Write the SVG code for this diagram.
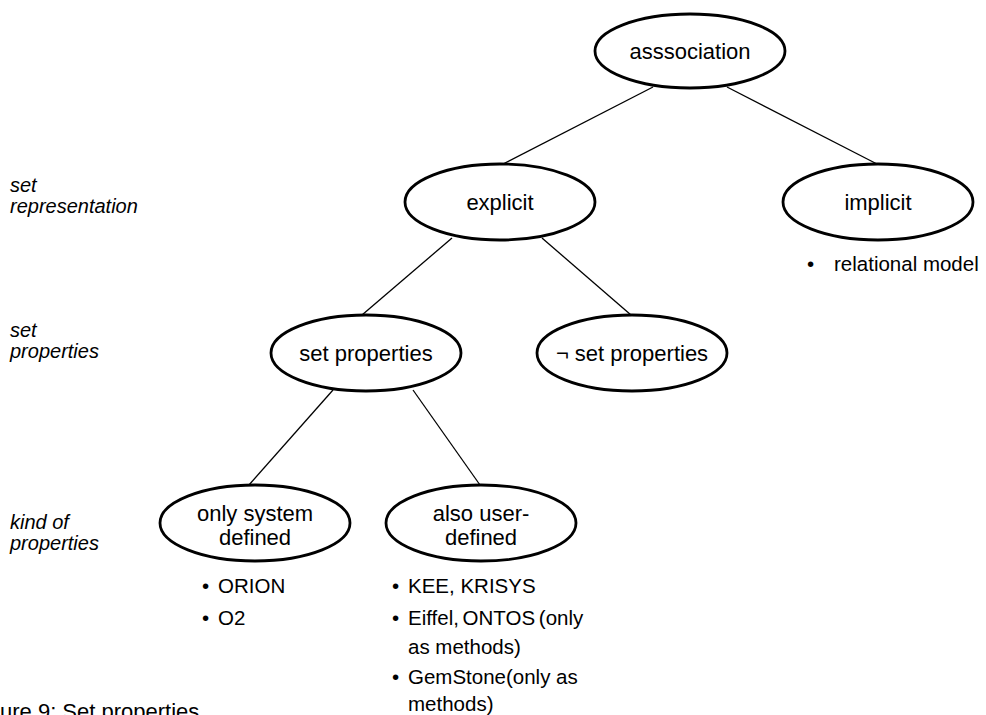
<svg xmlns="http://www.w3.org/2000/svg" width="986" height="715" viewBox="0 0 986 715">
  <style>
    .node ellipse { fill: #ffffff; stroke: #000000; stroke-width: 2.8; }
    .node text { font-family: "Liberation Sans", Arial, sans-serif; font-size: 22px; text-anchor: middle; fill: #000000; }
    .edge { stroke: #000000; stroke-width: 1.3; fill: none; }
    .level { font-family: "Liberation Sans", Arial, sans-serif; font-size: 20px; font-style: italic; fill: #000000; }
    .item { font-family: "Liberation Sans", Arial, sans-serif; font-size: 20.5px; fill: #000000; }
    .caption { font-family: "Liberation Sans", Arial, sans-serif; font-size: 22px; fill: #000000; }
  </style>
  <rect width="986" height="715" fill="#ffffff"/>

  <!-- tree edges -->
  <g id="connectors">
    <line class="edge" x1="653" y1="87" x2="503" y2="164"/>
    <line class="edge" x1="727" y1="87" x2="877" y2="164"/>
    <line class="edge" x1="452" y1="238" x2="362" y2="315"/>
    <line class="edge" x1="542" y1="238" x2="631" y2="315"/>
    <line class="edge" x1="333" y1="390" x2="249" y2="485"/>
    <line class="edge" x1="413" y1="390" x2="480" y2="485"/>
  </g>

  <!-- level labels on the left -->
  <g id="levels">
    <text class="level" x="10" y="192">set</text>
    <text class="level" x="10" y="213">representation</text>
    <text class="level" x="10" y="337">set</text>
    <text class="level" x="10" y="358">properties</text>
    <text class="level" x="10" y="529">kind of</text>
    <text class="level" x="10" y="550">properties</text>
  </g>

  <g id="association" class="node">
    <ellipse cx="690" cy="51" rx="95" ry="37"/>
    <text x="690" y="59">asssociation</text>
  </g>
  <g id="explicit" class="node">
    <ellipse cx="500" cy="202" rx="95" ry="38"/>
    <text x="500" y="210">explicit</text>
  </g>
  <g id="implicit" class="node">
    <ellipse cx="878" cy="202" rx="95" ry="38"/>
    <text x="878" y="210">implicit</text>
  </g>
  <g id="set-properties" class="node">
    <ellipse cx="366" cy="353" rx="95" ry="38"/>
    <text x="366" y="361">set properties</text>
  </g>
  <g id="not-set-properties" class="node">
    <ellipse cx="632" cy="353" rx="95" ry="38"/>
    <text x="632" y="361">¬ set properties</text>
  </g>
  <g id="only-system-defined" class="node">
    <ellipse cx="255" cy="523" rx="95" ry="38"/>
    <text x="255" y="521">only system</text>
    <text x="255" y="545">defined</text>
  </g>
  <g id="also-user-defined" class="node">
    <ellipse cx="481" cy="523" rx="95" ry="38"/>
    <text x="481" y="521">also user-</text>
    <text x="481" y="545">defined</text>
  </g>

  <!-- example systems -->
  <g id="implicit-examples">
    <text class="item" x="807" y="271">•</text>
    <text class="item" x="834" y="271">relational model</text>
  </g>
  <g id="system-examples">
    <text class="item" x="202" y="593">•</text>
    <text class="item" x="218" y="593">ORION</text>
    <text class="item" x="202" y="625">•</text>
    <text class="item" x="218" y="625">O2</text>
  </g>
  <g id="user-examples">
    <text class="item" x="392" y="593">•</text>
    <text class="item" x="408" y="593">KEE, KRISYS</text>
    <text class="item" x="392" y="625">•</text>
    <text class="item" x="408" y="625" word-spacing="-2">Eiffel, ONTOS (only</text>
    <text class="item" x="408" y="654">as methods)</text>
    <text class="item" x="392" y="684">•</text>
    <text class="item" x="408" y="684">GemStone(only as</text>
    <text class="item" x="408" y="711">methods)</text>
  </g>

  <text class="caption" x="0" y="719">ure 9: Set properties</text>
</svg>
